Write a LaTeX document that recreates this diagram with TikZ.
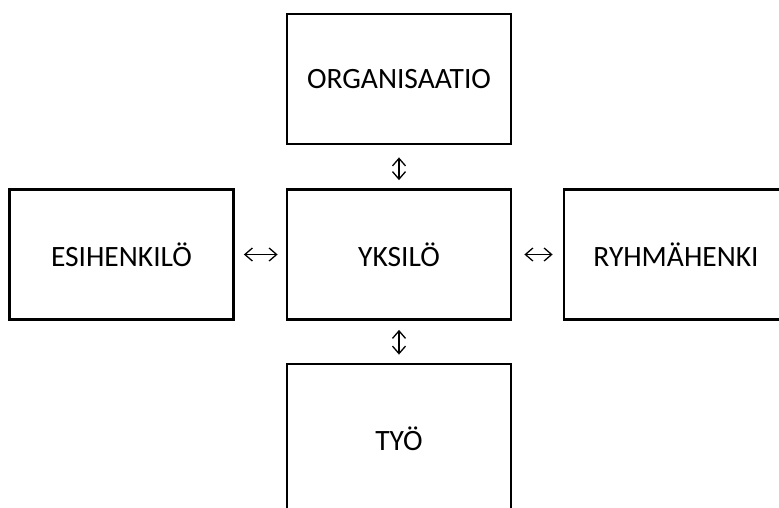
\documentclass[tikz,border=0pt]{standalone}
\usepackage{fontspec}
\setmainfont{Carlito}
\usepackage{tikz}
\usetikzlibrary{arrows.meta}

\tikzset{
	kasten/.style={draw=black, line width=2.8pt, minimum width=224pt, minimum height=130pt, inner sep=0pt, font=\fontsize{29.5}{34}\selectfont},
	pfeil/.style={{Straight Barb[length=7.5pt,width=13pt]}-{Straight Barb[length=7.5pt,width=13pt]}, line width=1.3pt}
}

\begin{document}
\begin{tikzpicture}[x=1pt,y=1pt]
		\path[use as bounding box, clip] (0,0) rectangle (779,-507);
		\fill[white] (0,0) rectangle (779,-507);
		
		% Kästen
		\node[kasten] (org) at (399,-79) {ORGANISAATIO};
		\node[kasten] (yks) at (399,-254.5) {YKSILÖ};
		\node[kasten] (esi) at (121.5,-254.5) {ESIHENKILÖ};
		\node[kasten] (ryh) at (676,-254.5) {RYHMÄHENKI};
		\node[kasten, minimum height=150pt] (tyo) at (399,-439) {TYÖ};
		
		% Pfeile
		\draw[pfeil, shorten <=12pt, shorten >=8pt] (org) -- (yks);
		\draw[pfeil, shorten <=9pt, shorten >=8pt] (yks) -- (tyo);
		\draw[pfeil, shorten <=9pt, shorten >=8pt] (esi) -- (yks);
		\draw[pfeil, shorten <=12pt, shorten >=10pt] (yks) -- (ryh);
	\end{tikzpicture}
\end{document}
